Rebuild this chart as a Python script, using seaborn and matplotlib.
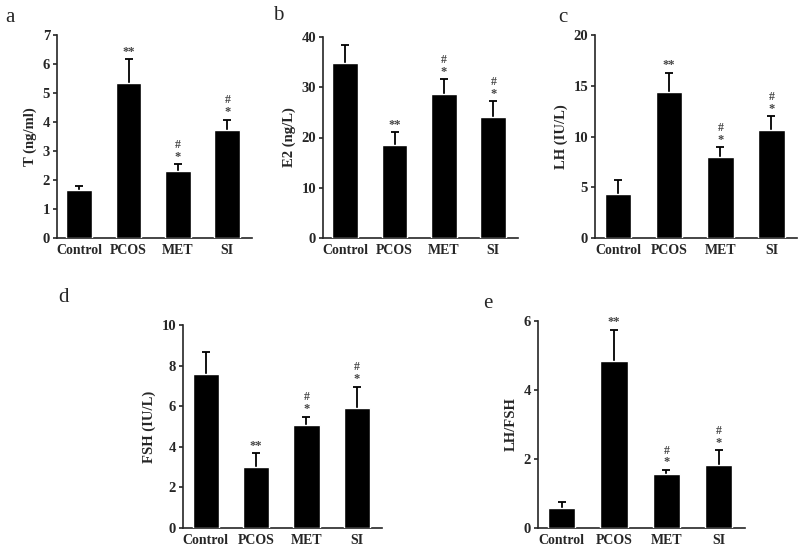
import numpy as np
import pandas as pd
import seaborn as sns
import matplotlib
matplotlib.use("Agg")
import matplotlib.pyplot as plt

sns.set_theme(style="ticks")
plt.rcParams['font.family'] = ['Liberation Serif', 'DejaVu Serif']
plt.rcParams['font.weight'] = 'bold'

groups = ["Control", "PCOS", "MET", "SI"]

# means and upper error (mean + SD) per panel
t_mean = [1.65, 5.33, 2.30, 3.74]
t_top = [1.81, 6.17, 2.54, 4.08]
e2_mean = [34.9, 18.5, 28.7, 24.1]
e2_top = [38.5, 21.0, 31.6, 27.2]
lh_mean = [4.3, 14.4, 7.95, 10.6]
lh_top = [5.7, 16.3, 8.95, 12.0]
fsh_mean = [7.6, 3.0, 5.05, 5.93]
fsh_top = [8.66, 3.69, 5.49, 6.97]
ratio_mean = [0.57, 4.84, 1.56, 1.84]
ratio_top = [0.75, 5.75, 1.69, 2.26]

# significance marks: (star text, hash)
marks = [("", False), ("**", False), ("*", True), ("*", True)]

panels = [
    ("a", "T (ng/ml)", t_mean, t_top, 7, 1),
    ("b", "E2 (ng/L)", e2_mean, e2_top, 40, 10),
    ("c", "LH (IU/L)", lh_mean, lh_top, 20, 5),
    ("d", "FSH (IU/L)", fsh_mean, fsh_top, 10, 2),
    ("e", "LH/FSH", ratio_mean, ratio_top, 6, 2),
]

# axes boxes in pixels: left, right, top, bottom
boxes = [(57, 252, 35, 238), (323, 518, 37, 238), (595, 797, 35, 238),
         (183, 382, 325, 528), (538, 745, 321, 528)]
letter_pos = [(5, 18), (273, 15), (558, 17), (58, 297), (483, 303)]

W, H = 800, 549
fig = plt.figure(figsize=(8, 5.49), dpi=100)

for (letter, ylab, mean, top, ymax, step), (l, r, t, b), (lx, ly) in zip(panels, boxes, letter_pos):
    ax = fig.add_axes([l / W, (H - b) / H, (r - l) / W, (b - t) / H])
    df = pd.DataFrame({"group": groups, "value": mean})
    sns.barplot(data=df, x="group", y="value", color="black", width=0.52,
                saturation=1, ax=ax, errorbar=None, zorder=3)
    err = np.array(top) - np.array(mean)
    _, caps, _ = ax.errorbar(range(len(groups)), mean, yerr=[np.zeros(len(err)), err],
                             fmt="none", ecolor="black", elinewidth=1.3, capsize=3,
                             capthick=1.3, zorder=2)
    caps[0].set_visible(False)
    for i, (star, hsh) in enumerate(marks):
        if star:
            ax.annotate(star, (i, top[i]), xytext=(0, 1), textcoords="offset points",
                        ha="center", va="bottom", fontsize=9, color="#444444")
        if hsh:
            ax.annotate("#", (i, top[i]), xytext=(0, 9.5), textcoords="offset points",
                        ha="center", va="bottom", fontsize=8.5, color="#444444")
    ax.set_xlim(-0.45, 3.5)
    ax.set_ylim(0, ymax)
    ax.set_yticks(np.arange(0, ymax + step / 2, step))
    ax.set_xlabel("")
    ax.set_ylabel(ylab, fontsize=10.5, fontweight="bold")
    ax.tick_params(axis="x", length=0, labelsize=10, pad=4)
    ax.tick_params(axis="y", length=3, width=1.2, labelsize=10.5, pad=2)
    for lab in ax.get_xticklabels() + ax.get_yticklabels():
        lab.set_fontweight("bold")
    sns.despine(ax=ax)
    ax.spines["left"].set_linewidth(1.2)
    ax.spines["bottom"].set_linewidth(1.2)
    fig.text(lx / W, 1 - ly / H, letter, fontsize=15, fontweight="normal",
             ha="left", va="center")

fig.savefig("out.png", dpi=100)
